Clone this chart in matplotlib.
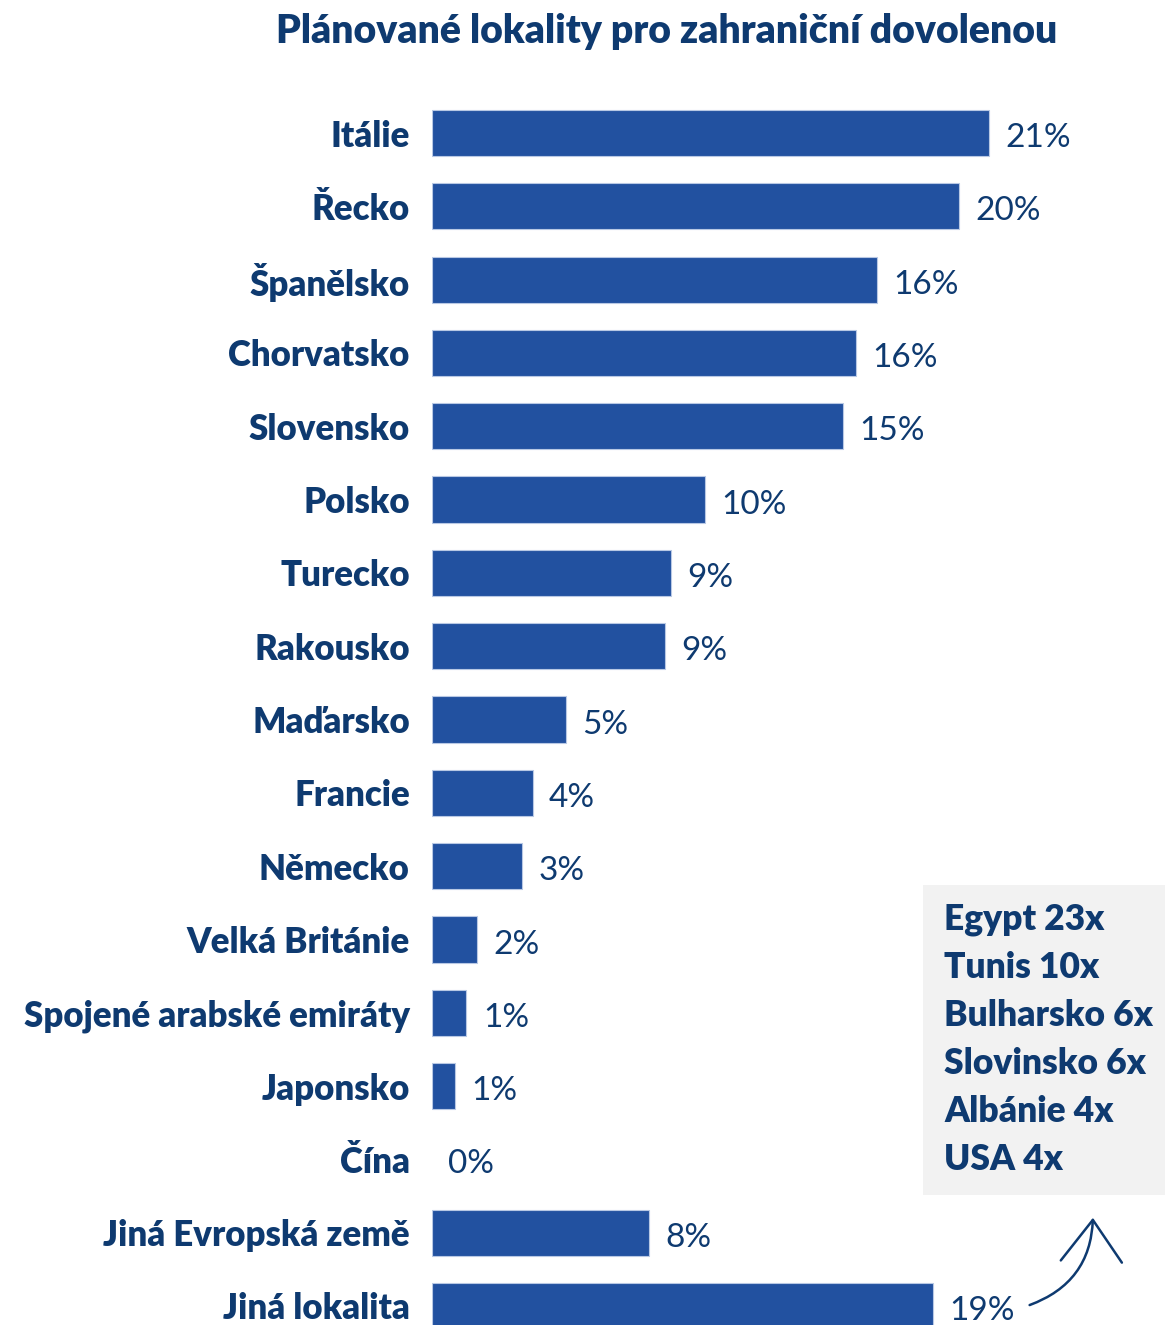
import matplotlib.pyplot as plt
from matplotlib.patches import Rectangle, FancyArrowPatch

# data
countries = ['Itálie', 'Řecko', 'Španělsko', 'Chorvatsko', 'Slovensko', 'Polsko',
             'Turecko', 'Rakousko', 'Maďarsko', 'Francie', 'Německo', 'Velká Británie',
             'Spojené arabské emiráty', 'Japonsko', 'Čína', 'Jiná Evropská země', 'Jiná lokalita']
values = [21.0, 19.9, 16.8, 16.0, 15.5, 10.3, 9.0, 8.8, 5.05, 3.8, 3.4, 1.7, 1.3, 0.87, 0.0, 8.2, 18.9]
value_labels = ['21%', '20%', '16%', '16%', '15%', '10%', '9%', '9%', '5%', '4%', '3%', '2%',
                '1%', '1%', '0%', '8%', '19%']
other_places = ['Egypt 23x', 'Tunis 10x', 'Bulharsko 6x', 'Slovinsko 6x', 'Albánie 4x', 'USA 4x']

bar_color = '#2251A0'
text_color = '#0E3A70'

plt.rcParams['font.family'] = ['Lato', 'DejaVu Sans']

W, H = 1165, 1325
fig = plt.figure(figsize=(W / 100, H / 100), dpi=100)
ax = fig.add_axes([432 / W, 0, 1 - 432 / W, (H - 96.4) / H])

pos = list(range(len(countries)))
edge_w = [0.8 if v > 0 else 0 for v in values]
ax.barh(pos, values, height=0.63, color=bar_color, edgecolor='#b8c8e4', linewidth=edge_w)
for p, v, lab in zip(pos, values, value_labels):
    ax.text(v + 0.62, p + 0.07, lab, va='center', ha='left', fontsize=24, color=text_color)

ax.set_ylim(16.26, -0.5)
ax.set_xlim(0, 733 / 26.5)
ax.set_yticks(pos)
ax.set_yticklabels(countries, fontsize=25, fontweight='heavy', color=text_color)
ax.tick_params(axis='y', length=0, pad=16)
ax.set_xticks([])
for s in ax.spines.values():
    s.set_visible(False)

fig.text(667 / W, 1 - 31 / H, 'Plánované lokality pro zahraniční dovolenou', ha='center', va='center',
         fontsize=28.2, fontweight='heavy', color=text_color)

# grey box with other destinations
fig.patches.append(Rectangle((923 / W, 1 - 1195 / H), (1165 - 923) / W, (1195 - 885) / H,
                             transform=fig.transFigure, facecolor='#F2F2F2', edgecolor='none', zorder=0))
for i, t in enumerate(other_places):
    fig.text(944 / W, 1 - (920 + i * 47.8) / H, t, ha='left', va='center', fontsize=25.5,
             fontweight='heavy', color=text_color)

arrow = FancyArrowPatch((1027 / W, 1 - 1306 / H), (1093 / W, 1 - 1215 / H), transform=fig.transFigure,
                        connectionstyle='arc3,rad=0.35', arrowstyle='->,head_length=30,head_width=22',
                        color=text_color, linewidth=1.8, mutation_scale=1)
fig.patches.append(arrow)

fig.savefig('out.png', dpi=100)
